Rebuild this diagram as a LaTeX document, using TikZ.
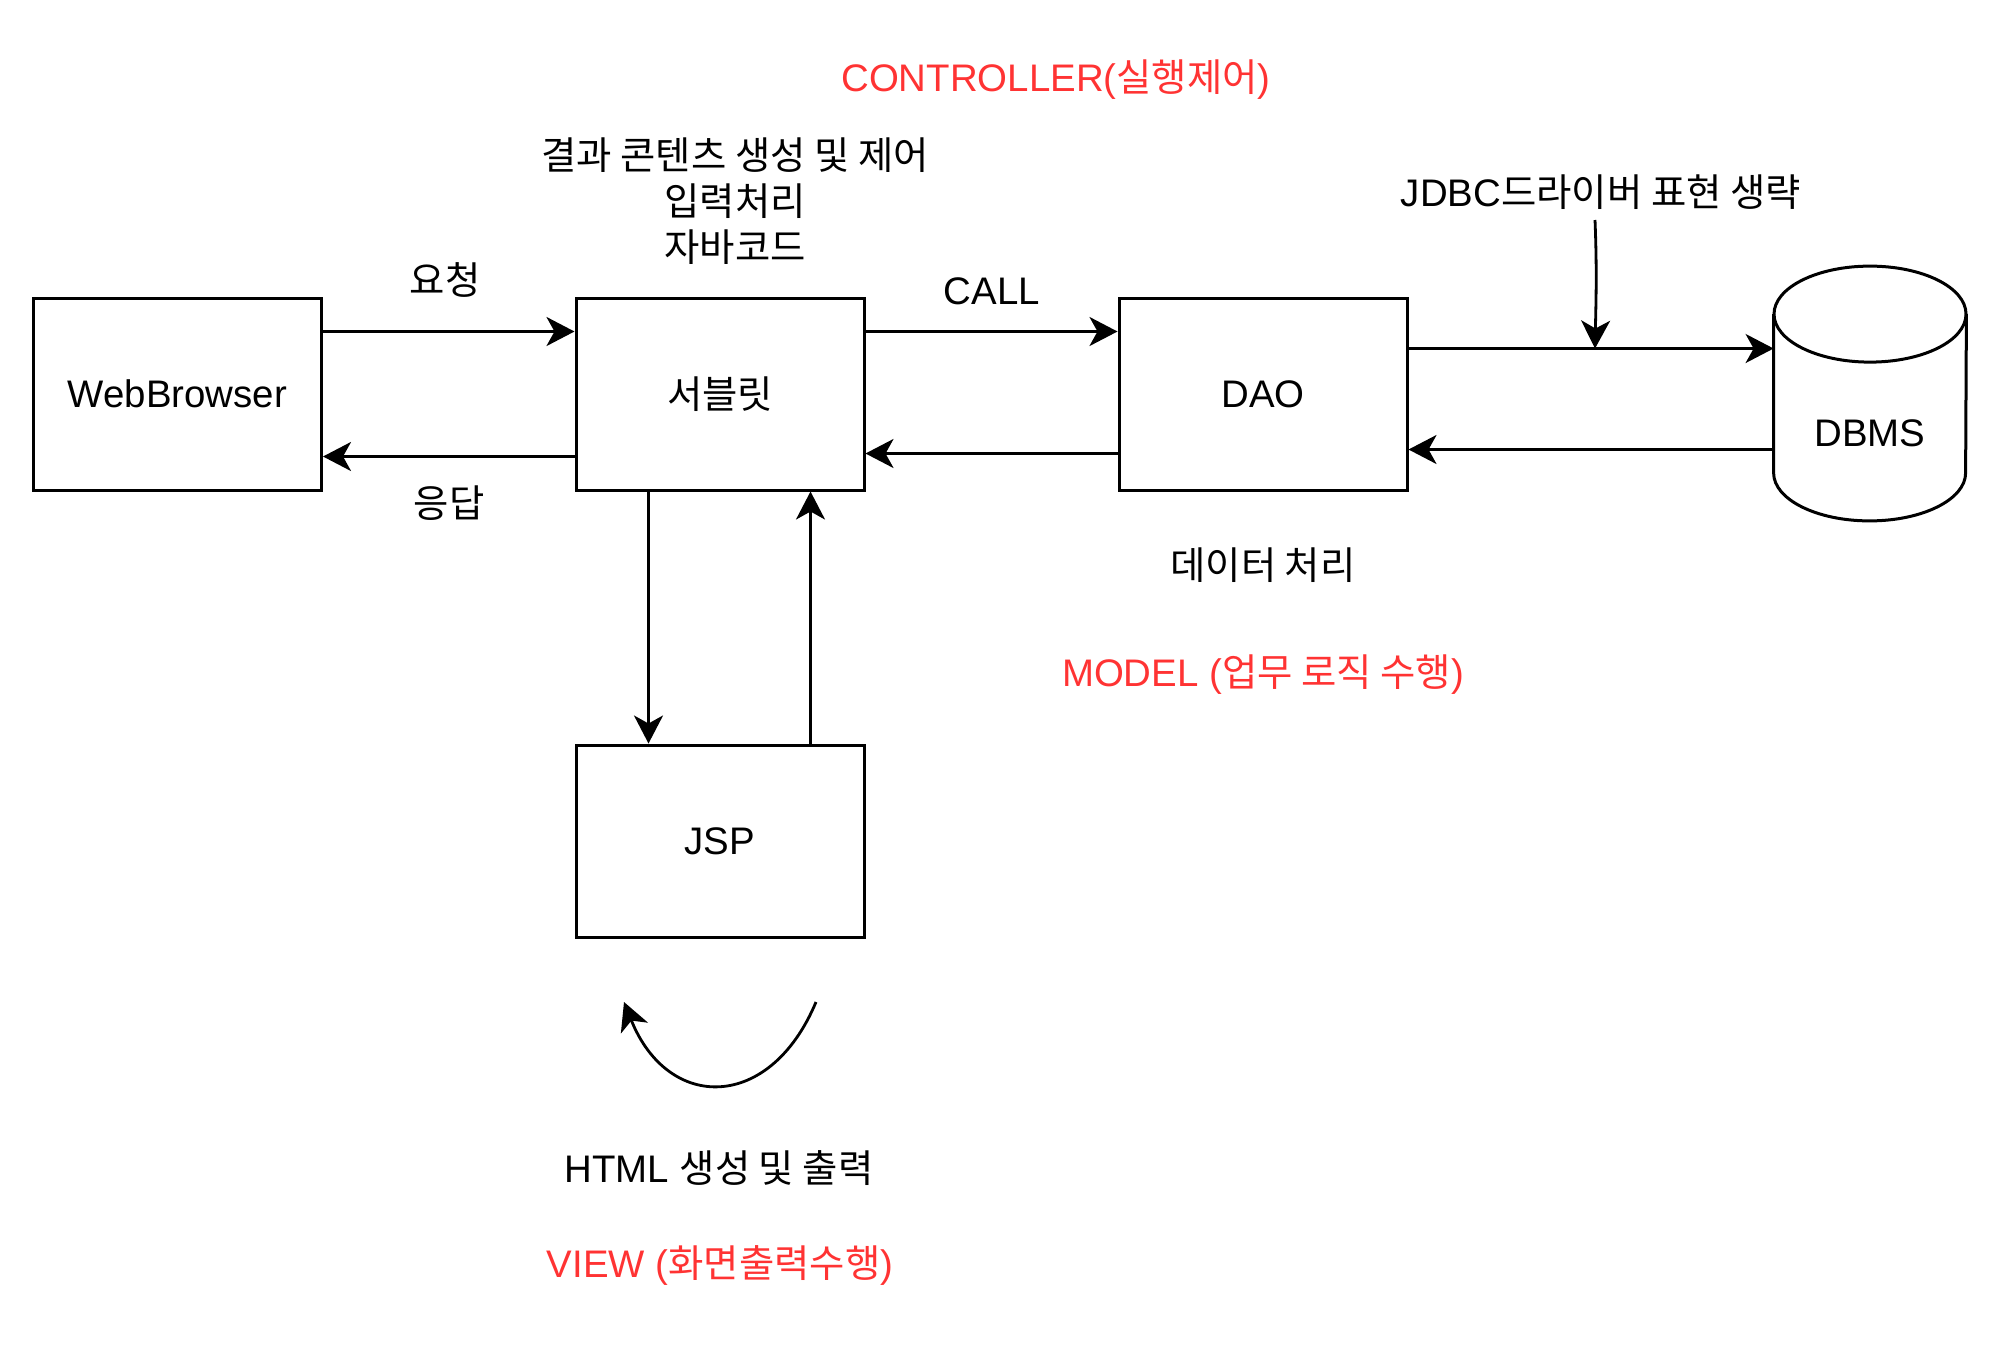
\documentclass[tikz,border=0pt]{standalone}
\usepackage{fontspec}
\setmainfont{Liberation Sans}
\newfontfamily\krfont{Noto Sans CJK KR}
\newcommand{\kr}[1]{{\krfont #1}}
\usetikzlibrary{arrows.meta,calc}
\definecolor{mred}{RGB}{255,51,51}
\begin{document}
\begin{tikzpicture}[x=0.5pt,y=-0.5pt,
  font=\fontsize{19.2pt}{23pt}\selectfont,
  box/.style={draw, line width=1.5pt, minimum width=144pt, minimum height=96pt, inner sep=0pt},
  cyl/.style={line width=1.5pt},
  conn/.style={line width=1.4pt, -{Stealth[length=14pt,width=14.5pt,inset=4pt]}},
  lbl/.style={inner sep=0pt, align=center},
  redlbl/.style={lbl, text=mred}]
\fill[white] (0,0) rectangle (2000,1345);
\useasboundingbox (0,0) rectangle (2000,1345);

% boxes
\node[box] (wb) at (177.5,394) {WebBrowser};
\node[box] (sv) at (720,394) {\kr{서블릿}};
\node[box] (dao) at (1263,394) {DAO};
\node[box] (jsp) at (720,841) {JSP};
\node[minimum width=96pt, minimum height=127pt, inner sep=0pt] (db) at (1870,393.5) {};

% cylinder
\draw[cyl] ($(db.north west)+(0,48)$) -- ($(db.south west)+(0,-48)$)
  arc[start angle=180, end angle=360, x radius=48pt, y radius=24pt]
  -- ($(db.north east)+(0,48)$);
\draw[cyl] ($(db.north)+(0,48)$) ellipse[x radius=48pt, y radius=24pt];
\node[lbl] (dbl) at (1870,433) {DBMS};

% connectors
\draw[conn] ($(wb.north east)+(0,35)$) -- ($(sv.north west)+(0,35)$);
\draw[conn] ($(sv.south west)+(0,-35)$) -- ($(wb.south east)+(0,-35)$);
\draw[conn] ($(sv.north east)+(0,35)$) -- ($(dao.north west)+(0,35)$);
\draw[conn] ($(dao.south west)+(0,-38)$) -- ($(sv.south east)+(0,-38)$);
\coordinate (p1) at ($(dao.north east)+(0,52)$);
\draw[conn] (p1) -- (p1 -| db.west);
\coordinate (p2) at ($(dao.south east)+(0,-42)$);
\draw[conn] (p2 -| db.west) -- (p2);
\coordinate (p3) at ($(sv.south west)+(74,0)$);
\draw[conn] (p3) -- (p3 |- jsp.north);
\coordinate (p4) at ($(jsp.north east)+(-55,0)$);
\draw[conn] (p4) -- (p4 |- sv.south);
\coordinate (jd) at (1595,220);
\draw[conn] (jd) .. controls (1597,270) and (1596,300) .. (p1 -| jd);
\coordinate (cs) at (816,1002);
\coordinate (ce) at (624,1002);
\draw[conn] (cs) .. controls (770,1112) and (668,1112) .. (ce);

% labels
\node[redlbl] (ctl) at (1056,80) {CONTROLLER(\kr{실행제어})};
\node[lbl] (svdesc) at (735,201) {\kr{결과 콘텐츠 생성 및 제어}\\\kr{입력처리}\\\kr{자바코드}};
\node[lbl] (req) at (445,280) {\kr{요청}};
\node[lbl] (res) at (449,503) {\kr{응답}};
\node[lbl] (call) at (992,291) {CALL};
\node[lbl] (jdbc) at (1601,192) {JDBC\kr{드라이버 표현 생략}};
\node[lbl] (dproc) at (1263,565) {\kr{데이터 처리}};
\node[redlbl] (model) at (1263,675) {MODEL (\kr{업무 로직 수행})};
\node[lbl] (html) at (719,1168) {HTML \kr{생성 및 출력}};
\node[redlbl] (view) at (720,1265) {VIEW (\kr{화면출력수행})};
\end{tikzpicture}
\end{document}
